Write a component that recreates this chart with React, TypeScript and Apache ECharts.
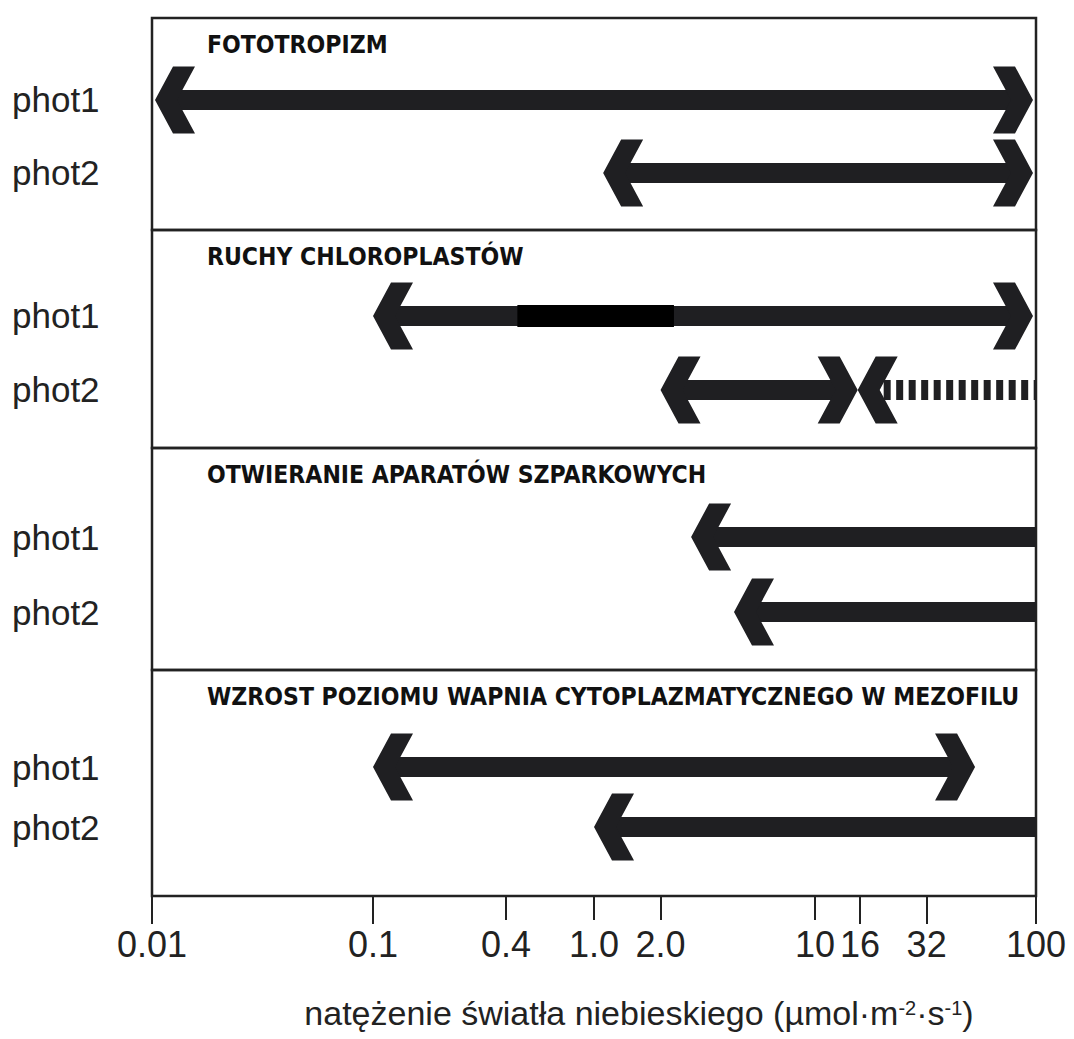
import React, { useEffect, useRef } from "react";
import * as echarts from "echarts";

// Processes (one panel each) and the photoreceptors compared in every panel
const processes = [
  "FOTOTROPIZM",
  "RUCHY CHLOROPLASTÓW",
  "OTWIERANIE APARATÓW SZPARKOWYCH",
  "WZROST POZIOMU WAPNIA CYTOPLAZMATYCZNEGO W MEZOFILU",
];
const receptors = ["phot1", "phot2"];

// Axis ticks (µmol·m⁻²·s⁻¹)
const tickValues = [0.01, 0.1, 0.4, 1, 2, 10, 16, 32, 100];
const tickLabels = ["0.01", "0.1", "0.4", "1.0", "2.0", "10", "16", "32", "100"];
const longTicks = [0.01, 0.1, 16, 32, 100];
const shortTicks = [0.4, 1, 2, 10];

// Light-intensity ranges over which each response occurs
const rangeProcess = [0, 0, 1, 1, 1, 2, 2, 3, 3];
const rangeReceptor = ["phot1", "phot2", "phot1", "phot2", "phot2", "phot1", "phot2", "phot1", "phot2"];
const rangeFrom = [0.01, 1.1, 0.1, 2.0, 15.6, 2.75, 4.3, 0.1, 1.0];
const rangeTo = [100, 100, 100, 15.6, 100, 100, 100, 53, 100];
const headAtFrom = [1, 1, 1, 1, 1, 1, 1, 1, 1];
const headAtTo = [1, 1, 1, 1, 0, 0, 0, 1, 0];
const rangeDashed = [0, 0, 0, 0, 1, 0, 0, 0, 0];

// Strongest chloroplast response for phot1
const peakProcess = 1;
const peakReceptor = "phot1";
const peakFrom = 0.45;
const peakTo = 2.3;

// Layout
const W = 1074;
const H = 1039;
const PLOT_LEFT = 152;
const PLOT_RIGHT = 1036;
const panelTops = [18, 230, 448, 670, 896];
const panelYRange = [
  [-0.123, 2.781],
  [-0.162, 2.784],
  [-0.187, 2.773],
  [-0.617, 3.15],
];
const INK = "#1f1f22";
const SHAFT = 20;
const HEAD_H = 33.5;
const SANS = "Liberation Sans, Arial, sans-serif";

function labelFor(v: number) {
  let best = 0;
  let bestD = Infinity;
  tickValues.forEach((t, i) => {
    const d = Math.abs(Math.log10(t) - Math.log10(v));
    if (d < bestD) {
      bestD = d;
      best = i;
    }
  });
  return tickLabels[best];
}

function headPoints(tx: number, cy: number, dir: number) {
  // dir = -1 points left, +1 points right
  return [
    [tx, cy],
    [tx - dir * 18, cy - HEAD_H],
    [tx - dir * 40, cy - HEAD_H],
    [tx - dir * 22, cy],
    [tx - dir * 40, cy + HEAD_H],
    [tx - dir * 18, cy + HEAD_H],
  ];
}

function renderArrow(params: any, api: any) {
  const cs = params.coordSys;
  const row = api.value(2);
  const p0 = api.coord([api.value(0), row]);
  const p1 = api.coord([api.value(1), row]);
  const hFrom = api.value(3) === 1;
  const hTo = api.value(4) === 1;
  const isDashed = api.value(5) === 1;
  const cy = p0[1];
  const inset = 3;
  const xa = hFrom ? Math.max(p0[0], cs.x + inset) : p0[0];
  const xb = hTo ? Math.min(p1[0], cs.x + cs.width - inset) : p1[0];
  const sa = hFrom ? xa + (isDashed ? 26 : 20) : xa;
  const sb = hTo ? xb - 20 : xb;
  const children: any[] = [];
  if (isDashed) {
    children.push({
      type: "line",
      shape: { x1: sa, y1: cy, x2: sb, y2: cy },
      style: { stroke: INK, lineWidth: SHAFT, lineDash: [7, 5.5], lineCap: "butt" },
    });
  } else {
    children.push({
      type: "rect",
      shape: { x: sa, y: cy - SHAFT / 2, width: sb - sa, height: SHAFT },
      style: { fill: INK },
    });
  }
  if (hFrom) {
    children.push({ type: "polygon", shape: { points: headPoints(xa, cy, -1) }, style: { fill: INK } });
  }
  if (hTo) {
    children.push({ type: "polygon", shape: { points: headPoints(xb, cy, 1) }, style: { fill: INK } });
  }
  return { type: "group", children };
}

function renderPeak(params: any, api: any) {
  const row = api.value(2);
  const p0 = api.coord([api.value(0), row]);
  const p1 = api.coord([api.value(1), row]);
  return {
    type: "rect",
    shape: { x: p0[0], y: p0[1] - SHAFT / 2 - 1, width: p1[0] - p0[0], height: SHAFT + 2 },
    style: { fill: "#000" },
  };
}

export default function App() {
  const ref = useRef<HTMLDivElement>(null);

  useEffect(() => {
    if (!ref.current) return;
    const chart = echarts.init(ref.current, null, { renderer: "svg" });

    const grids = processes.map((_, i) => ({
      left: PLOT_LEFT,
      width: PLOT_RIGHT - PLOT_LEFT,
      top: panelTops[i],
      height: panelTops[i + 1] - panelTops[i],
      show: true,
      borderColor: "#222",
      borderWidth: 2.5,
      backgroundColor: "transparent",
      containLabel: false,
    }));

    const baseX = (i: number) => ({
      type: "log",
      logBase: 10,
      gridIndex: i,
      position: "bottom",
      offset: 0,
      min: 0.01,
      max: 100,
      axisLine: { show: false, onZero: false },
      axisTick: { show: false },
      axisLabel: { show: false },
      splitLine: { show: false },
    });

    const tickLabelStyle = {
      fontFamily: SANS,
      fontSize: 36,
      color: "#222",
      margin: 30,
      formatter: (v: number) => labelFor(v),
    };

    const last = processes.length - 1;
    const xAxes: any[] = processes.map((_, i) => baseX(i));
    xAxes[last] = {
      ...baseX(last),
      axisTick: { show: true, customValues: longTicks, length: 28, lineStyle: { color: "#222", width: 2 } },
      axisLabel: { show: true, customValues: longTicks, ...tickLabelStyle },
      name: "natężenie światła niebieskiego (µmol·m{sup|-2}·s{sup|-1})",
      nameLocation: "middle",
      nameGap: 100,
      nameTextStyle: {
        fontFamily: SANS,
        fontSize: 34,
        color: "#222",
        padding: [0, 0, 0, 90],
        rich: {
          sup: { fontFamily: SANS, fontSize: 20, color: "#222", verticalAlign: "top", padding: [2, 0, 0, 0] },
        },
      },
    };
    xAxes.push({
      ...baseX(last),
      axisTick: { show: true, customValues: shortTicks, length: 24, lineStyle: { color: "#222", width: 2 } },
      axisLabel: { show: true, customValues: shortTicks, ...tickLabelStyle },
    });

    const yAxes = processes.map((_, i) => ({
      type: "value",
      gridIndex: i,
      inverse: true,
      min: panelYRange[i][0],
      max: panelYRange[i][1],
      axisLine: { show: false },
      axisTick: { show: false },
      splitLine: { show: false },
      axisLabel: {
        customValues: [1, 2],
        formatter: (v: number) => receptors[Math.round(v) - 1] ?? "",
        align: "left",
        margin: 140,
        fontFamily: SANS,
        fontSize: 35,
        color: "#222",
      },
    }));

    const series: any[] = processes.map((_, i) => ({
      type: "custom",
      xAxisIndex: i,
      yAxisIndex: i,
      renderItem: renderArrow,
      encode: { x: [0, 1], y: 2 },
      data: rangeFrom
        .map((from, k) => ({ k, from }))
        .filter(({ k }) => rangeProcess[k] === i)
        .map(({ k, from }) => [
          from,
          rangeTo[k],
          receptors.indexOf(rangeReceptor[k]) + 1,
          headAtFrom[k],
          headAtTo[k],
          rangeDashed[k],
        ]),
      z: 2,
    }));
    series.push({
      type: "custom",
      xAxisIndex: peakProcess,
      yAxisIndex: peakProcess,
      renderItem: renderPeak,
      encode: { x: [0, 1], y: 2 },
      data: [[peakFrom, peakTo, receptors.indexOf(peakReceptor) + 1]],
      z: 3,
    });

    const titles = processes.map((text, i) => ({
      type: "text",
      x: 207,
      y: panelTops[i] + 26,
      z: 10,
      style: {
        text,
        fontFamily: "DejaVu Sans Condensed, DejaVu Sans, sans-serif",
        fontWeight: "bold",
        fontSize: 24.5,
        fill: "#111",
        align: "left",
        verticalAlign: "middle",
      },
    }));

    chart.setOption({
      animation: false,
      backgroundColor: "#fff",
      grid: grids,
      xAxis: xAxes,
      yAxis: yAxes,
      series,
      graphic: titles,
    });

    return () => chart.dispose();
  }, []);

  return (
    <div
      ref={ref}
      style={{ position: "absolute", left: 0, top: 0, width: W, height: H }}
    />
  );
}
